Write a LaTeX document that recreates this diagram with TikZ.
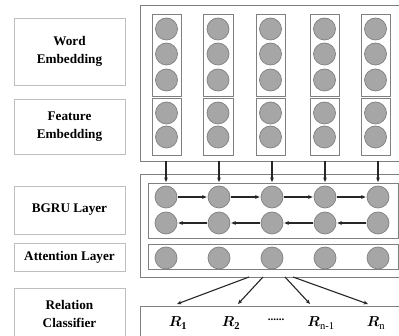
\documentclass[tikz,border=0pt]{standalone}
\usepackage{amsmath}
\usepackage{fontspec}
\setmainfont{Liberation Serif}
\usetikzlibrary{arrows.meta}
\definecolor{cfill}{HTML}{A6A6A6}
\definecolor{cline}{HTML}{808080}
\definecolor{lbox}{HTML}{BFBFBF}
\definecolor{obox}{HTML}{7F7F7F}
\tikzset{
  lab/.style={draw=lbox, line width=0.8pt, align=center, font=\bfseries\fontsize{13.2}{17.5}\selectfont},
  cell/.style={circle, draw=cline, fill=cfill, line width=0.7pt, minimum size=22pt, inner sep=0pt},
  colbox/.style={draw=cline, line width=0.8pt},
  outerbox/.style={draw=obox, line width=0.9pt},
  arr/.style={-{Stealth[length=4.5pt,width=3.8pt]}, line width=1.1pt, draw=black!85},
  rlab/.style={font=\fontsize{15}{17}\selectfont, inner sep=1pt}
}
\begin{document}
\begin{tikzpicture}[x=1pt,y=-1pt]
\useasboundingbox (0,0) rectangle (399,336);
\fill[white] (0,0) rectangle (399,336);
% left labels
\draw[lab] (14,18) rectangle (125,85) node[pos=0.5, lab, draw=none] (wl) {Word\\Embedding};
\draw[lab] (14,99) rectangle (125,154) node[pos=0.5, lab, draw=none] (fl) {Feature\\Embedding};
\draw[lab] (14,186) rectangle (125,234) node[pos=0.5, lab, draw=none] (bl) {BGRU Layer};
\draw[lab] (14,243) rectangle (125,271) node[pos=0.5, lab, draw=none] (al) {Attention Layer};
\draw[lab] (14,288) rectangle (125,340) node[pos=0.5, lab, draw=none] (rl) {Relation\\Classifier};
% top outer box
\draw[outerbox] (140,5) rectangle (401,161) coordinate (o1se);
\coordinate (o1sw) at (140,161);
% columns
\foreach \i/\xl/\xr in {1/152/181, 2/203/233, 3/256/285, 4/310/339, 5/361/390}{
  \draw[colbox] (\xl,14) rectangle (\xr,96);
  \draw[colbox] (\xl,98) rectangle (\xr,155);
  \coordinate (col\i) at ({(\xl+\xr)/2},155);
  \foreach \j/\y in {1/29, 2/54, 3/80}{
    \node[cell] (w\i\j) at ({(\xl+\xr)/2},\y) {};
  }
  \foreach \j/\y in {1/113, 2/137}{
    \node[cell] (f\i\j) at ({(\xl+\xr)/2},\y) {};
  }
}
% second outer box
\draw[outerbox] (140,174) rectangle (401,277);
\draw[colbox] (148,183) rectangle (398,238);
\draw[colbox] (148,244) rectangle (398,269);
\coordinate (o2s) at (140,277);
\foreach \i/\x in {1/166, 2/219, 3/272, 4/325, 5/378}{
  \node[cell] (b\i) at (\x,197) {};
  \node[cell] (c\i) at (\x,223) {};
  \node[cell] (a\i) at (\x,258) {};
  \coordinate (top\i) at (\x,161);
  \coordinate (bot\i) at (\x,182);
  \draw[arr] (top\i) -- (bot\i);
}
\foreach \i/\j in {1/2, 2/3, 3/4, 4/5}{
  \draw[arr] ([xshift=1pt]b\i.east) -- ([xshift=-1pt]b\j.west);
  \draw[arr] ([xshift=-1pt]c\j.west) -- ([xshift=1pt]c\i.east);
}
% bottom box
\draw[colbox] (140,306) rectangle (401,340);
\node[rlab] (r1) at (178,323) {$\boldsymbol{R}_{\mathbf{1}}$};
\node[rlab] (r2) at (231,323) {$\boldsymbol{R}_{\mathbf{2}}$};
\node[rlab] (rd) at (276,320) {\fontsize{11}{11}\selectfont\textbf{......}};
\node[rlab] (r3) at (321,323) {$\boldsymbol{R}_{\textrm{n-1}}$};
\node[rlab] (r4) at (376,323) {$\boldsymbol{R}_{\textrm{n}}$};
\coordinate (s1) at (249,277);
\coordinate (s2) at (263,277);
\coordinate (s3) at (285,277);
\coordinate (s4) at (293,277);
\coordinate (e1) at (177,304);
\coordinate (e2) at (238,304);
\coordinate (e3) at (310,304);
\coordinate (e4) at (368,304);
\foreach \k in {1,2,3,4}{\draw[arr] (s\k) -- (e\k);}
\end{tikzpicture}
\end{document}
